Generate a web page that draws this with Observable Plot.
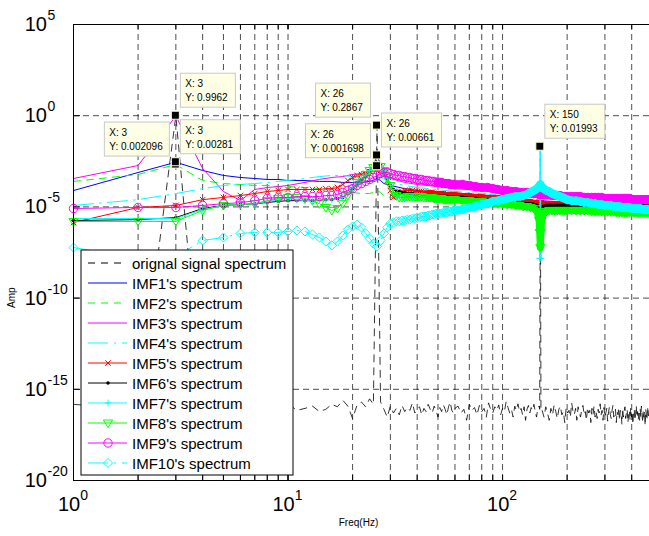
<!DOCTYPE html>
<html><head><meta charset="utf-8">
<script src="https://cdn.jsdelivr.net/npm/d3@7"></script>
<script src="https://cdn.jsdelivr.net/npm/@observablehq/plot@0.6"></script>
<style>html,body{margin:0;padding:0;background:#fff;}#chart{width:649px;height:536px;overflow:hidden;}</style>
</head><body><div id="chart"></div>
<script>
// ---------- DATA ----------
const gridFreq = [1,2,3,4,5,6,7,8,9,10,11,12,13,14,15,16,17,18,19,20,21,22,23,24,25,26,27,28,29,30,
 31,32,33,34,35,36,37,38,39,40,41,42,43,44,45,46,47,48,49,50,51,52,53,54,55,56,57,58,59,60,
 65,70,75,80,85,90,95,100,
 105,110,115,120,125,130,135,140,145,
 148,149,150,151,152,
 155,160,165,170,175,180,185,190,195,200,
 210,220,230,240,250,260,270,280,290,300,310,320,330,340,350,360,370,380,390,400,410,420,430,440,450,460,470,480,490,500];

const sparseFreq = [1,2,3,4,5,6,7,8,9,10,12,14,16,18,20,22,24,25,26,27,28,30,35,40,50,60,80,100,150,200,300,500];

const origFreq = [1,2,3,4,5,6,7,8,9,10,11,12,13,14,15,16,17,18,19,20,21,22,23,24,25,26,27,28,29,30,
 31,32,33,34,35,36,37,38,39,40,41,42,43,44,45,46,47,48,49,50,51,52,53,54,55,56,57,58,59,60,
 62,64,66,68,70,72,74,76,78,80,82,84,86,88,90,92,94,96,98,100,102,104,106,108,110,112,114,116,118,120,
 122,124,126,128,130,132,134,136,138,140,142,144,146,148,149,150,151,
 153,156,159,162,165,168,171,174,177,180,183,186,189,192,195,198,201,204,207,210,213,216,219,222,225,228,
 231,234,237,240,243,246,249,252,255,258,261,264,267,270,273,276,279,282,285,288,291,294,297,300,303,306,
 309,312,315,318,321,324,327,330,333,336,339,342,345,348,351,354,357,360,363,366,369,372,375,378,381,384,
 387,390,393,396,399,402,405,408,411,414,417,420,423,426,429,432,435,438,441,444,447,450,453,456,459,462,
 465,468,471,474,477,480,483,486,489,492,495,498];

const origAmp = [1.5e-16,8e-17,0.9962,6e-17,2e-16,9e-17,1.3e-16,4e-17,1.1e-16,1.6e-16,
 7e-17,9e-17,1.2e-16,6e-17,8e-17,1.5e-16,1.1e-16,2.5e-16,1.2e-16,2.5e-17,
 1.4e-16,2e-16,1.1e-16,3e-16,1.5e-16,0.2867,2e-16,8e-17,3e-17,1.2e-16,
 5e-17,9e-17,4e-17,1.3e-16,6e-17,1e-16,7e-17,1.8e-16,5e-17,8e-17,
 1.1e-16,4e-17,9e-17,6e-17,1.5e-16,8e-17,5e-17,1.2e-16,7e-17,3e-17,
 1e-16,6e-17,1.4e-16,8e-17,4e-17,1.1e-16,2e-16,7e-17,5e-17,9e-17,
 1.2e-16,5e-17,8e-17,2e-17,1.5e-16,7e-17,1e-16,4e-17,1.3e-16,6e-17,9e-17,3e-17,1.8e-16,8e-17,5e-17,
 1.1e-16,7e-17,1.4e-16,4e-17,9e-17,6e-17,2.2e-16,1e-16,5e-17,8e-17,3e-17,1.2e-16,7e-17,1.6e-16,6e-17,
 9e-17,4e-17,1.1e-16,2e-17,8e-17,1.3e-16,5e-17,1e-16,7e-17,1.5e-16,6e-17,3e-17,9e-17,1.2e-16,
 8e-17,0.01993,6e-17,
 7e-17,3e-17,1.1e-16,5e-17,2e-17,9e-17,4e-17,1.4e-16,6e-17,2.5e-17,8e-17,1.2e-16,4e-17,6e-17,1.5e-17,
 1e-16,5e-17,7e-17,3e-17,1.8e-16,6e-17,4e-17,9e-17,2e-17,1.1e-16,5e-17,3e-17,8e-17,1.3e-16,4e-17,
 6e-17,2e-17,1e-16,5e-17,7e-17,1.5e-17,9e-17,4e-17,1.2e-16,3e-17,6e-17,2.5e-17,8e-17,5e-17,1.6e-16,
 4e-17,7e-17,2e-17,1e-16,3e-17,5e-17,9e-17,1.8e-17,6e-17,1.1e-16,4e-17,2.5e-17,7e-17,1.3e-16,3e-17,
 5e-17,8e-17,1.5e-17,6e-17,4e-17,1e-16,2e-17,7e-17,5e-17,1.2e-17,9e-17,3e-17,6e-17,1.1e-16,2.5e-17,
 5e-17,8e-17,1.5e-17,4e-17,7e-17,2e-17,1e-16,3e-17,6e-17,1.2e-17,5e-17,8e-17,2e-17,4e-17,1.3e-16,
 3e-17,6e-17,2e-17,
 5e-17,2e-17,9e-17,3e-17,1.2e-16,4e-17,1.5e-17,7e-17,3e-17,6e-17,1e-17,8e-17,4e-17,2e-17,1.1e-16,
 5e-17,2.5e-17,7e-17,3e-17,9e-17,1.5e-17,6e-17,4e-17];

const imf1 = [7.9e-5,7.7e-4,0.00281,9.9e-4,5.3e-4,4.1e-4,3.6e-4,3.2e-4,3.2e-4,2.8e-4,2.8e-4,2.5e-4,2.5e-4,2.2e-4,2.2e-4,2.2e-4,
 2.5e-4,2.8e-4,3.6e-4,2.8e-4,1.9e-4,1.5e-4,1e-4,7.9e-5,6.2e-5,4.8e-5,3.7e-5,2.9e-5,2.2e-5,1.74e-5,1.35e-5,9.3e-6];
const imf2 = [2.5e-4,6e-4,0.002096,2.8e-4,1.9e-4,1.7e-4,1.5e-4,1.5e-4,1.3e-4,1.3e-4,1.16e-4,1e-4,9e-5,7e-5,6.2e-5,5.4e-5,
 5.4e-5,6.2e-5,7.9e-5,6.2e-5,4.2e-5,3.3e-5,2.5e-5,2.2e-5,2e-5,1.74e-5,1.5e-5,1.35e-5,1.05e-5,9.3e-6,7.2e-6,5.6e-6];
const imf3 = [3.6e-4,1.86e-3,0.95,1.27e-3,7e-5,2.2e-5,9e-5,1.16e-4,1.3e-4,1.5e-4,2.2e-4,3.2e-4,4.1e-4,4.6e-4,6e-4,6.8e-4,
 7.7e-4,8.7e-4,9.9e-4,7.7e-4,5.3e-4,3.6e-4,2.2e-4,1.7e-4,1.3e-4,1e-4,7.9e-5,6.2e-5,4.8e-5,4.2e-5,3.3e-5,2.5e-5];
const imf4 = [1.2e-5,2.5e-5,5.4e-5,1e-4,1.5e-4,1.7e-4,1.9e-4,2.2e-4,2.5e-4,2.8e-4,3.6e-4,4.6e-4,5.3e-4,5.3e-4,4.6e-4,4.1e-4,
 4.1e-4,4.6e-4,6e-4,4.6e-4,3.2e-4,2.2e-4,1.5e-4,1.16e-4,9e-5,7e-5,5.4e-5,4.2e-5,3.3e-5,2.5e-5,2e-5,1.35e-5];

const imf5 = [1.4e-6,9.3e-6,1.2e-5,2.5e-5,3.3e-5,4.2e-5,5.4e-5,7e-5,7.9e-5,9e-5,9e-5,9e-5,9e-5,9e-5,1e-4,1e-4,1.16e-4,1.7e-4,2.8e-4,4.1e-4,
 5.3e-4,6e-4,6.8e-4,8.7e-4,1.1e-3,1.3e-3,9.9e-4,6e-4,2.8e-4,7.9e-5,
 3.3e-5,4.2e-5,6.2e-5,7e-5,7.9e-5,7.9e-5,7.9e-5,7.9e-5,7e-5,7e-5,
 7e-5,7e-5,6.2e-5,6.2e-5,6.2e-5,6.2e-5,6.2e-5,5.4e-5,5.4e-5,5.4e-5,
 5.4e-5,5.4e-5,5.4e-5,4.8e-5,4.8e-5,4.8e-5,4.8e-5,4.8e-5,4.8e-5,4.8e-5,
 4.2e-5,4.2e-5,3.7e-5,3.7e-5,3.3e-5,3.3e-5,3.3e-5,2.9e-5,
 2.9e-5,2.5e-5,2.5e-5,2.2e-5,2.2e-5,2e-5,2e-5,1.74e-5,1.74e-5,
 1.74e-5,1.74e-5,1.74e-5,1.74e-5,1.74e-5,
 1.5e-5,1.5e-5,1.5e-5,1.5e-5,1.5e-5,1.5e-5,1.5e-5,1.5e-5,1.5e-5,1.5e-5,
 1.5e-5,1.5e-5,1.5e-5,1.5e-5,1.5e-5,1.5e-5,1.5e-5,1.5e-5,1.5e-5,1.5e-5,
 1.35e-5,1.35e-5,1.35e-5,1.35e-5,1.35e-5,1.35e-5,1.35e-5,1.35e-5,1.35e-5,1.35e-5,
 1.35e-5,1.35e-5,1.35e-5,1.35e-5,1.35e-5,1.35e-5,1.35e-5,1.35e-5,1.35e-5,1.35e-5];
const imf6 = [1.8e-6,2e-6,2.6e-6,8.2e-6,1.2e-5,1.35e-5,1.5e-5,1.74e-5,2e-5,2.2e-5,2.2e-5,2.2e-5,2.2e-5,2.5e-5,2.5e-5,2.5e-5,2.9e-5,3.3e-5,5.4e-5,1e-4,
 1.9e-4,3.2e-4,4.6e-4,9.9e-4,1.86e-3,0.00661,2.1e-3,9.9e-4,3.6e-4,1.5e-4,
 9e-5,7.9e-5,7e-5,6.2e-5,6.2e-5,5.4e-5,5.4e-5,5.4e-5,4.8e-5,4.8e-5,
 4.8e-5,4.8e-5,4.2e-5,4.2e-5,4.2e-5,4.2e-5,4.2e-5,3.7e-5,3.7e-5,3.7e-5,
 3.7e-5,3.7e-5,3.7e-5,3.7e-5,3.7e-5,3.3e-5,3.3e-5,3.3e-5,3.3e-5,3.3e-5,
 3.3e-5,2.9e-5,2.9e-5,2.5e-5,2.5e-5,2.2e-5,2.2e-5,2e-5,
 2e-5,1.74e-5,1.74e-5,1.74e-5,1.5e-5,1.5e-5,1.5e-5,1.35e-5,1.2e-5,
 7.2e-6,4.9e-6,2.3e-6,4.9e-6,7.2e-6,
 1.05e-5,1.2e-5,1.2e-5,1.2e-5,1.2e-5,1.2e-5,1.2e-5,1.2e-5,1.2e-5,1.2e-5,
 1.2e-5,1.2e-5,1.2e-5,1.2e-5,1.2e-5,1.2e-5,1.2e-5,1.2e-5,1.2e-5,1.2e-5,
 1.2e-5,1.2e-5,1.2e-5,1.2e-5,1.2e-5,1.2e-5,1.2e-5,1.2e-5,1.2e-5,1.2e-5,
 1.2e-5,1.2e-5,1.2e-5,1.2e-5,1.2e-5,1.2e-5,1.2e-5,1.2e-5,1.2e-5,1.2e-5];
const imf7 = [2.3e-6,2.3e-6,2.3e-6,7.2e-6,1.2e-5,1.35e-5,1.5e-5,2e-5,2.5e-5,2.9e-5,2.5e-5,2.2e-5,2.2e-5,2.5e-5,2.5e-5,2.5e-5,2.9e-5,3.3e-5,5.4e-5,1e-4,
 2e-4,3.4e-4,5.5e-4,9.9e-4,1.5e-3,2.2e-3,1.8e-3,9.9e-4,3.8e-4,1.5e-4,
 6.2e-5,4.2e-5,3.3e-5,3.3e-5,3.3e-5,3.7e-5,3.7e-5,3.7e-5,3.7e-5,3.7e-5,
 3.7e-5,3.7e-5,3.3e-5,3.3e-5,3.3e-5,3.3e-5,3.3e-5,2.9e-5,2.9e-5,2.9e-5,
 2.9e-5,2.9e-5,2.5e-5,2.5e-5,2.5e-5,2.5e-5,2.5e-5,2.5e-5,2.5e-5,2.5e-5,
 2.2e-5,2.2e-5,2e-5,2e-5,1.74e-5,1.74e-5,1.5e-5,1.5e-5,
 1.35e-5,1.35e-5,1.2e-5,1.2e-5,1.05e-5,1.05e-5,9.3e-6,8.2e-6,5.6e-6,
 5e-7,1.5e-8,0.01993,1.5e-8,5e-7,
 4.3e-6,5.6e-6,6.4e-6,6.4e-6,6.4e-6,6.4e-6,6.4e-6,6.4e-6,6.4e-6,6.4e-6,
 6.4e-6,6.4e-6,6.4e-6,6.4e-6,6.4e-6,5.6e-6,5.6e-6,5.6e-6,5.6e-6,5.6e-6,
 5.6e-6,5.6e-6,5.6e-6,4.9e-6,4.9e-6,4.9e-6,4.9e-6,4.9e-6,4.9e-6,4.9e-6,
 4.9e-6,4.9e-6,4.9e-6,4.9e-6,4.9e-6,4.9e-6,4.9e-6,4.9e-6,4.9e-6,4.9e-6];
const imf8 = [1.6e-6,1.6e-6,1.6e-6,6.4e-6,1.2e-5,1.35e-5,1.5e-5,2.2e-5,2.9e-5,3.3e-5,3.3e-5,2.9e-5,2.2e-5,1.5e-5,9.3e-6,6.4e-6,8.2e-6,1.5e-5,4.2e-5,1e-4,
 2.2e-4,3.6e-4,6e-4,9.9e-4,1.45e-3,0.001698,1.64e-3,9.9e-4,4.1e-4,1.5e-4,
 6.2e-5,4.2e-5,3.3e-5,3.3e-5,3.3e-5,3.7e-5,3.7e-5,3.7e-5,3.7e-5,3.7e-5,
 3.7e-5,3.7e-5,3.3e-5,3.3e-5,3.3e-5,3.3e-5,3.3e-5,2.9e-5,2.9e-5,2.9e-5,
 2.9e-5,2.9e-5,2.5e-5,2.5e-5,2.5e-5,2.5e-5,2.5e-5,2.5e-5,2.5e-5,2.5e-5,
 2.2e-5,2.2e-5,2e-5,2e-5,1.74e-5,1.74e-5,1.5e-5,1.5e-5,
 1.35e-5,1.35e-5,1.2e-5,1.2e-5,1.05e-5,1.05e-5,9.3e-6,8.2e-6,5.6e-6,
 1.8e-6,4e-7,5.9e-8,4e-7,1.8e-6,
 4.3e-6,5.6e-6,6.4e-6,6.4e-6,6.4e-6,6.4e-6,6.4e-6,6.4e-6,6.4e-6,6.4e-6,
 6.4e-6,6.4e-6,6.4e-6,6.4e-6,6.4e-6,5.6e-6,5.6e-6,5.6e-6,5.6e-6,5.6e-6,
 5.6e-6,5.6e-6,5.6e-6,4.9e-6,4.9e-6,4.9e-6,4.9e-6,4.9e-6,4.9e-6,4.9e-6,
 4.9e-6,4.9e-6,4.9e-6,4.9e-6,4.9e-6,4.9e-6,4.9e-6,4.9e-6,4.9e-6,4.9e-6];
const imf9 = [8.2e-6,9.3e-6,9.3e-6,1.2e-5,1.5e-5,1.7e-5,2.2e-5,2.9e-5,3.3e-5,3.3e-5,3.7e-5,3.7e-5,3.7e-5,3.7e-5,4.2e-5,4.2e-5,4.8e-5,6.2e-5,7.9e-5,1e-4,
 1.5e-4,1.9e-4,2.5e-4,3.2e-4,4.1e-4,5.3e-4,6.8e-4,7.7e-4,7.7e-4,6.8e-4,
 6e-4,5.3e-4,5.3e-4,4.6e-4,4.6e-4,4.1e-4,4.1e-4,3.6e-4,3.6e-4,3.2e-4,
 3.2e-4,3.2e-4,2.8e-4,2.8e-4,2.8e-4,2.5e-4,2.5e-4,2.5e-4,2.2e-4,2.2e-4,
 2.2e-4,2.2e-4,1.9e-4,1.9e-4,1.9e-4,1.9e-4,1.7e-4,1.7e-4,1.7e-4,1.7e-4,
 1.7e-4,1.5e-4,1.3e-4,1.16e-4,1.16e-4,1e-4,9e-5,7.9e-5,
 7.9e-5,7e-5,7e-5,6.2e-5,6.2e-5,6.2e-5,5.4e-5,5.4e-5,5.4e-5,
 4.8e-5,4.8e-5,4.8e-5,4.8e-5,4.8e-5,
 4.8e-5,4.8e-5,4.8e-5,4.2e-5,4.2e-5,4.2e-5,4.2e-5,3.7e-5,3.7e-5,3.7e-5,
 3.7e-5,3.7e-5,3.7e-5,3.3e-5,3.3e-5,3.3e-5,3.3e-5,3.3e-5,3.3e-5,2.9e-5,
 2.9e-5,2.9e-5,2.9e-5,2.9e-5,2.9e-5,2.9e-5,2.9e-5,2.9e-5,2.9e-5,2.5e-5,
 2.5e-5,2.5e-5,2.5e-5,2.5e-5,2.5e-5,2.5e-5,2.5e-5,2.5e-5,2.5e-5,2.5e-5];
const imf10 = [5.9e-8,1.5e-8,1.9e-8,1.44e-7,2.1e-7,3.5e-7,4e-7,4e-7,4e-7,4.5e-7,5.1e-7,4.5e-7,3.1e-7,2.1e-7,1.27e-7,7.7e-8,1.27e-7,2.7e-7,5.8e-7,8.4e-7,
 1.08e-6,7.4e-7,3.5e-7,1.85e-7,9.9e-8,6.7e-8,1.44e-7,3.5e-7,7.4e-7,1.23e-6,
 1.4e-6,1.6e-6,1.6e-6,1.8e-6,1.8e-6,2e-6,2e-6,2.3e-6,2.3e-6,2.6e-6,
 2.6e-6,3e-6,3e-6,3e-6,3.4e-6,3.4e-6,3.8e-6,3.8e-6,4.3e-6,4.3e-6,
 4.3e-6,4.3e-6,4.9e-6,4.9e-6,4.9e-6,5.6e-6,5.6e-6,5.6e-6,6.4e-6,6.4e-6,
 7.2e-6,9.3e-6,1.05e-5,1.35e-5,1.53e-5,2e-5,2.2e-5,2.5e-5,
 2.9e-5,3.3e-5,3.7e-5,3.7e-5,4.2e-5,4.8e-5,6.2e-5,7.9e-5,1.02e-4,
 1.3e-4,1.5e-4,1.7e-4,1.5e-4,1.3e-4,
 1.02e-4,7.9e-5,7e-5,5.4e-5,4.8e-5,4.2e-5,3.7e-5,3.3e-5,2.9e-5,2.5e-5,
 2.2e-5,2.2e-5,2e-5,1.74e-5,1.74e-5,1.53e-5,1.53e-5,1.35e-5,1.35e-5,1.2e-5,
 1.2e-5,1.2e-5,1.05e-5,1.05e-5,1.05e-5,9.3e-6,9.3e-6,9.3e-6,9.3e-6,8.2e-6,
 8.2e-6,8.2e-6,8.2e-6,8.2e-6,7.2e-6,7.2e-6,7.2e-6,7.2e-6,7.2e-6,7.2e-6];

const legendLabels = ["orignal signal spectrum","IMF1's spectrum","IMF2's spectrum","IMF3's spectrum","IMF4's spectrum",
 "IMF5's spectrum","IMF6's spectrum","IMF7's spectrum","IMF8's spectrum","IMF9's spectrum","IMF10's spectrum"];

const tipFreq = [3, 3, 3, 26, 26, 26, 150];
const tipAmp  = [0.9962, 0.002096, 0.00281, 0.2867, 0.001698, 0.00661, 0.01993];
const tipText = ["0.9962","0.002096","0.00281","0.2867","0.001698","0.00661","0.01993"];
const tipSide = ["r","l","r","l","l","r","r"];

const xGrid = [2,3,4,5,6,7,8,9,10,20,30,40,50,60,70,80,90,100,200,300,400];
const yGrid = [1, 1e-5, 1e-10, 1e-15];
const xTickVals = [1, 10, 100];
const xTickExp = ["0","1","2"];
const yTickVals = [1e5, 1, 1e-5, 1e-10, 1e-15, 1e-20];
const yTickExp = ["5","0","-5","-10","-15","-20"];

// ---------- STYLE ----------
const triDown = {draw(ctx, size){ const s = Math.sqrt(size/Math.PI);
  ctx.moveTo(-s*1.15, -s*0.75); ctx.lineTo(s*1.15, -s*0.75); ctx.lineTo(0, s*1.15); ctx.closePath(); }};
const FONT = "'Liberation Sans', Arial, Helvetica, sans-serif";
const rows = (f, v) => f.map((x, i) => ({f: x, v: v[i]}));
const DASHDOT = "20,6,2,6";
const series = [
  {f: origFreq, v: origAmp, color: "#000", dash: "7,6", w: 0.8},
  {f: sparseFreq, v: imf1, color: "#0000ff"},
  {f: sparseFreq, v: imf2, color: "#00ff00", dash: "7,6"},
  {f: sparseFreq, v: imf3, color: "#ff00ff"},
  {f: sparseFreq, v: imf4, color: "#00ffff", dash: DASHDOT},
  {f: gridFreq, v: imf5, color: "#ff0000", sym: d3.symbolTimes, r: 2.6, band: 5, from: 45},
  {f: gridFreq, v: imf6, color: "#000000", sym: d3.symbolCircle, r: 1.7, filled: true, band: 3.5, from: 40},
  {f: gridFreq, v: imf7, color: "#00ffff", sym: d3.symbolPlus, r: 2.3},
  {f: gridFreq, v: imf8, color: "#00ff00", sym: triDown, r: 4, band: 7, from: 45},
  {f: gridFreq, v: imf9, color: "#ff00ff", sym: d3.symbolCircle, r: 4.2, band: 8.5, from: 50},
  {f: gridFreq, v: imf10, color: "#00ffff", sym: d3.symbolDiamond2, r: 4.1, dash: DASHDOT, band: 8.5, from: 60}
];

const dataMarks = [];
series.forEach(s => {
  const d = rows(s.f, s.v);
  if (s.band) dataMarks.push(Plot.line(d.filter(r => r.f >= s.from), {x: "f", y: "v", stroke: s.color, strokeWidth: s.band}));
  dataMarks.push(Plot.line(d, {x: "f", y: "v", stroke: s.color, strokeWidth: s.w || 1, strokeDasharray: s.dash}));
  if (s.sym) dataMarks.push(Plot.dot(d, {x: "f", y: "v", symbol: s.sym, r: s.r,
     fill: s.filled ? s.color : "none", stroke: s.filled ? "none" : s.color, strokeWidth: 1}));
});

const tips = tipFreq.map((f, i) => ({f, v: tipAmp[i]}));

const chart = Plot.plot({
  width: 649, height: 536,
  marginLeft: 73, marginRight: -3, marginTop: 24, marginBottom: 56,
  x: {type: "log", domain: [1, 500], axis: null},
  y: {type: "log", domain: [1e-20, 1e5], axis: null},
  style: {background: "#fff", fontFamily: FONT, overflow: "hidden"},
  marks: [
    Plot.ruleX(xGrid, {stroke: "#000", strokeWidth: 0.7, strokeDasharray: "6,4"}),
    Plot.ruleY(yGrid, {stroke: "#000", strokeWidth: 0.7, strokeDasharray: "6,4"}),
    Plot.ruleX(xGrid.concat(xTickVals), {stroke: "#000", insetTop: 451}),
    Plot.ruleX(xGrid.concat(xTickVals), {stroke: "#000", insetBottom: 451}),
    Plot.ruleY(yTickVals, {stroke: "#000", insetRight: 572}),
    ...dataMarks,
    Plot.frame({stroke: "#000", strokeWidth: 1})
  ]
});
document.getElementById("chart").appendChild(chart);

// ---------- DECORATIONS (through scales) ----------
const sx = chart.scale("x"), sy = chart.scale("y");
const svg = d3.select(chart);
const X0 = sx.apply(1), YB = sy.apply(1e-20);

// tick labels: base "10" right-aligned, exponent placed after it
const tl = svg.append("g").attr("font-family", FONT).attr("fill", "#000").attr("stroke", "none");
yTickVals.forEach((v, i) => {
  const y = sy.apply(v) + 7;
  tl.append("text").attr("x", X0 - 26).attr("y", y).attr("text-anchor", "end").attr("font-size", 20).text("10");
  tl.append("text").attr("x", X0 - 25.5).attr("y", y - 11).attr("text-anchor", "start").attr("font-size", 14).text(yTickExp[i]);
});
xTickVals.forEach((v, i) => {
  const t = tl.append("text").attr("x", sx.apply(v)).attr("y", YB + 31).attr("text-anchor", "middle");
  t.append("tspan").attr("font-size", 20).text("10");
  t.append("tspan").attr("font-size", 14).attr("dy", -11).text(xTickExp[i]);
});
tl.append("text").attr("transform", `translate(${X0 - 58},${sy.apply(1e-10)}) rotate(-90)`)
  .attr("text-anchor", "middle").attr("font-size", 10).text("Amp");
tl.append("text").attr("x", (X0 + sx.apply(500)) / 2 - 4).attr("y", YB + 46)
  .attr("text-anchor", "middle").attr("font-size", 10).text("Freq(Hz)");

// legend
const LX = X0 + 8, LH = 225, LY = YB - 5 - LH, LW = 212;
const lg = svg.append("g").attr("font-family", FONT).attr("text-anchor", "start");
lg.append("rect").attr("x", LX).attr("y", LY).attr("width", LW).attr("height", LH)
  .attr("fill", "#fff").attr("stroke", "#000").attr("stroke-width", 1);
series.forEach((s, i) => {
  const cy = LY + 13 + 20 * i;
  lg.append("line").attr("x1", LX + 7).attr("x2", LX + 46).attr("y1", cy).attr("y2", cy)
    .attr("stroke", s.color).attr("stroke-width", 1).attr("stroke-dasharray", s.dash || null);
  if (s.sym) lg.append("path").attr("transform", `translate(${LX + 27},${cy})`)
    .attr("d", d3.symbol(s.sym, Math.PI * s.r * s.r)())
    .attr("fill", s.filled ? s.color : "none").attr("stroke", s.filled ? "none" : s.color).attr("stroke-width", 1);
  lg.append("text").attr("x", LX + 51).attr("y", cy + 5.5).attr("font-size", 15)
    .attr("fill", "#000").attr("stroke", "none").attr("text-anchor", "start").text(legendLabels[i]);
});

// data tips
const tg = svg.append("g").attr("font-family", FONT).attr("text-anchor", "start");
tips.forEach((d, i) => {
  const px = sx.apply(d.f), py = sy.apply(d.v);
  const t2 = "Y: " + tipText[i];
  const w = Math.round(t2.length * 5.0 + 10);
  const left = tipSide[i] === "r" ? px + 5 : px - 6 - w;
  const top = py - 42;
  tg.append("rect").attr("x", left).attr("y", top).attr("width", w).attr("height", 34)
    .attr("fill", "#ffffe6").attr("stroke", "#c8c8c8").attr("stroke-width", 1);
  tg.append("text").attr("x", left + 5).attr("y", top + 14).attr("font-size", 10).attr("fill", "#000").text("X: " + d.f);
  tg.append("text").attr("x", left + 5).attr("y", top + 28).attr("font-size", 10).attr("fill", "#000").text(t2);
});
tg.selectAll("path.tipm").data(tips).join("path")
  .attr("transform", d => `translate(${sx.apply(d.f)},${sy.apply(d.v)})`)
  .attr("d", d3.symbol(d3.symbolSquare, 64)()).attr("fill", "#000").attr("stroke", "#ffffcc").attr("stroke-width", 1);
</script></body></html>
